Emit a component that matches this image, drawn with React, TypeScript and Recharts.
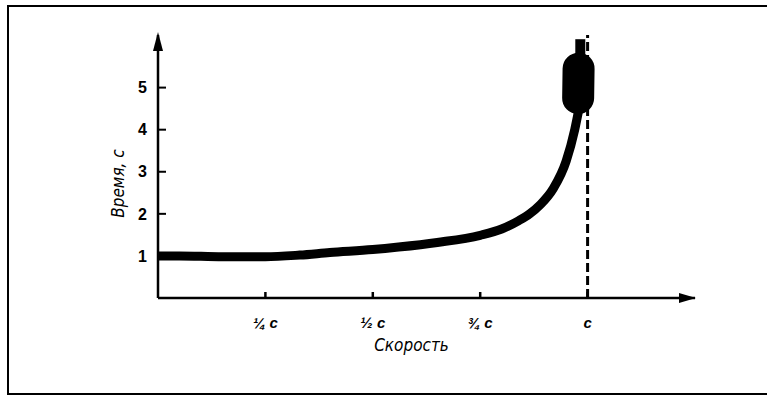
import React from "react";
import { LineChart, Line, XAxis, YAxis, ReferenceLine, ReferenceDot, Label } from "recharts";

// Speed as a fraction of c, and elapsed time (s)
const speeds = [0, 0.05, 0.15, 0.25, 0.33, 0.4, 0.5, 0.56, 0.65, 0.75, 0.8, 0.84, 0.865, 0.89, 0.92, 0.95, 0.97, 0.98];
const times = [1.0, 1.0, 0.98, 0.98, 1.02, 1.08, 1.15, 1.21, 1.32, 1.49, 1.64, 1.84, 2.0, 2.22, 2.6, 3.25, 4.0, 4.5];

// ink blob near c (curve running off the top)
const blobSpeeds = [0.978, 0.979];
const blobTimes = [4.75, 5.45];
const stubSpeeds = [0.983, 0.983];
const stubTimes = [5.5, 6.15];

const xTicks = [0.25, 0.5, 0.75, 1];
const xTickLabels = ["¼ c", "½ c", "¾ c", "c"];
const yTicks = [1, 2, 3, 4, 5];

const curve = speeds.map((v, i) => ({ v, t: times[i] }));
const blob = blobSpeeds.map((v, i) => ({ v, t: blobTimes[i] }));
const stub = stubSpeeds.map((v, i) => ({ v, t: stubTimes[i] }));

const titleFont = "'Liberation Sans Narrow', 'DejaVu Sans Condensed', 'Liberation Sans', sans-serif";

const RightArrow = (props: any) => {
  const { cx, cy } = props;
  return <polygon points={`${cx - 16},${cy - 5} ${cx + 1},${cy} ${cx - 16},${cy + 5}`} fill="#000" />;
};
const UpArrow = (props: any) => {
  const { cx, cy } = props;
  return <polygon points={`${cx - 5},${cy + 16} ${cx},${cy - 3} ${cx + 5},${cy + 16}`} fill="#000" />;
};

export default function App() {
  return (
    <div style={{ position: "fixed", left: 0, top: 0, width: 767, height: 403, background: "#fff", overflow: "hidden" }}>
      <div
        style={{
          position: "absolute",
          left: 7,
          top: 5,
          width: 780,
          height: 390,
          border: "2.5px solid #000",
          boxSizing: "border-box",
        }}
      />
      <div style={{ position: "absolute", left: 0, top: 0 }}>
        <LineChart width={767} height={403} margin={{ top: 35, right: 72, bottom: 75, left: 98 }}>
          <XAxis
            type="number"
            dataKey="v"
            domain={[0, 1.25]}
            allowDataOverflow
            ticks={xTicks}
            tickFormatter={(v: number) => xTickLabels[xTicks.indexOf(v)] ?? ""}
            axisLine={{ stroke: "#000", strokeWidth: 2.5 }}
            tickLine={{ stroke: "#000", strokeWidth: 2.5 }}
            tickSize={-6}
            tickMargin={25}
            height={30}
            tick={{ fill: "#000", fontSize: 15, fontWeight: 700, fontStyle: "italic", fontFamily: "'Liberation Sans', sans-serif" }}
          >
            <Label
              value="Скорость"
              position="insideBottom"
              offset={-23}
              dx={-15}
              style={{ fill: "#000", fontSize: 17, fontStyle: "italic", fontFamily: titleFont }}
            />
          </XAxis>
          <YAxis
            type="number"
            domain={[0, 6.25]}
            allowDataOverflow
            ticks={yTicks}
            axisLine={{ stroke: "#000", strokeWidth: 2.5 }}
            tickLine={{ stroke: "#000", strokeWidth: 2 }}
            tickSize={-8}
            tickMargin={19}
            width={60}
            tick={{ fill: "#000", fontSize: 16, fontWeight: 700, fontFamily: "'Liberation Sans', sans-serif" }}
          >
            <Label
              value="Время, с"
              angle={-90}
              position="insideLeft"
              offset={20}
              dy={17}
              style={{ fill: "#000", fontSize: 17, fontStyle: "italic", fontFamily: titleFont, textAnchor: "middle" }}
            />
          </YAxis>
          <ReferenceLine x={1} stroke="#000" strokeWidth={3} strokeDasharray="9 4" />
          <Line
            data={curve}
            dataKey="t"
            type="monotone"
            stroke="#000"
            strokeWidth={9}
            strokeLinejoin="round"
            dot={false}
            isAnimationActive={false}
          />
          <Line
            data={blob}
            dataKey="t"
            type="linear"
            stroke="#000"
            strokeWidth={32}
            strokeLinecap="round"
            dot={false}
            isAnimationActive={false}
          />
          <Line
            data={stub}
            dataKey="t"
            type="linear"
            stroke="#000"
            strokeWidth={10}
            dot={false}
            isAnimationActive={false}
          />
          <ReferenceDot x={1.25} y={0} r={0} shape={RightArrow} />
          <ReferenceDot x={0} y={6.25} r={0} shape={UpArrow} />
        </LineChart>
      </div>
    </div>
  );
}
